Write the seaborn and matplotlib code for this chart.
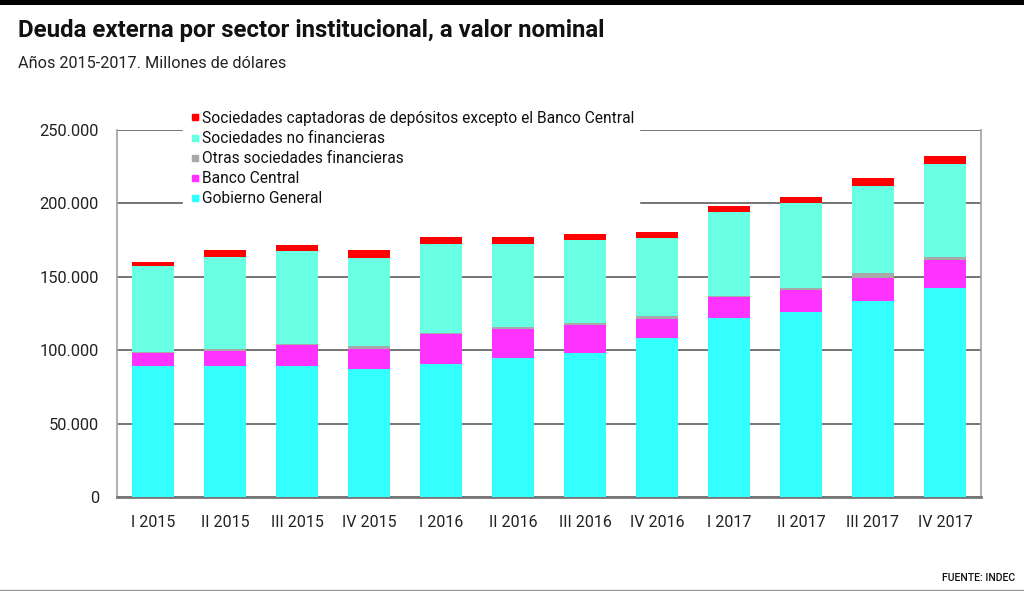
import matplotlib
matplotlib.use("Agg")
import matplotlib.pyplot as plt
import seaborn as sns
import pandas as pd
import numpy as np
from matplotlib.patches import Rectangle
from matplotlib.lines import Line2D
from matplotlib.ticker import FuncFormatter

categories = ["I 2015", "II 2015", "III 2015", "IV 2015", "I 2016", "II 2016",
              "III 2016", "IV 2016", "I 2017", "II 2017", "III 2017", "IV 2017"]
gobierno_general = [89400, 89400, 89400, 87200, 90600, 94700, 98300, 108300, 122100, 126000, 133500, 142600]
banco_central = [9000, 10200, 14100, 13600, 20200, 19800, 18900, 12700, 14300, 15200, 15500, 18900]
otras_soc_fin = [700, 950, 900, 2250, 1100, 1150, 1000, 2250, 700, 1100, 3400, 2000]
soc_no_fin = [58300, 63100, 63300, 59500, 60400, 56800, 56800, 53100, 57000, 58100, 59300, 63100]
soc_captadoras = [2700, 4300, 3900, 5400, 4500, 4500, 4100, 4100, 4100, 3900, 5400, 5700]

series_names = ["Gobierno General", "Banco Central", "Otras sociedades financieras",
                "Sociedades no financieras",
                "Sociedades captadoras de depósitos excepto el Banco Central"]
series_values = [gobierno_general, banco_central, otras_soc_fin, soc_no_fin, soc_captadoras]
colors = ["#33FFFF", "#FF33FF", "#A8A8A8", "#69FFE3", "#FF0000"]

df = pd.DataFrame({n: v for n, v in zip(series_names, series_values)})
df["cat"] = categories
cum = df[series_names].cumsum(axis=1)

sns.set_theme(style="white")
plt.rcParams['font.family'] = ['Roboto', 'DejaVu Sans']

fig = plt.figure(figsize=(10.24, 5.91), dpi=100)
ax = fig.add_axes([117/1024, 1-497/591, (981-117)/1024, (497-130)/591])

# draw stacked bars from top layer to bottom
for name, col in reversed(list(zip(series_names, colors))):
    sns.barplot(x=df["cat"], y=cum[name], color=col, saturation=1, width=0.58,
                ax=ax, zorder=3, edgecolor="none", linewidth=0)

ax.set_ylim(0, 250000)
ax.set_xlim(-0.5, len(categories)-0.5)
ax.set_yticks([0, 50000, 100000, 150000, 200000, 250000])
ax.yaxis.set_major_formatter(FuncFormatter(lambda v, p: "0" if v == 0 else f"{int(v):,}".replace(",", ".")))
ax.yaxis.grid(True, color="#6a6a6a", linewidth=1.3, zorder=0)
ax.set_axisbelow(True)
ax.set_xlabel("")
ax.set_ylabel("")
ax.tick_params(axis="y", labelsize=11.8, colors="#222222", pad=13, length=0)
ax.tick_params(axis="x", labelsize=11.5, colors="#222222", pad=13, length=0)
ax.spines["top"].set_visible(False)
ax.spines["left"].set_color("#9aa5a8")
ax.spines["right"].set_color("#9aa5a8")
ax.spines["bottom"].set_color("#777777")
ax.spines["bottom"].set_linewidth(2)
ax.spines["left"].set_linewidth(1.2)
ax.spines["right"].set_linewidth(1.2)

# legend
handles = [Line2D([0], [0], marker="s", linestyle="none", markersize=5,
                  markerfacecolor=c, markeredgecolor=c, label=n)
           for n, c in reversed(list(zip(series_names, colors)))]
leg = fig.legend(handles=handles, loc="upper left", bbox_to_anchor=(183/1024, 1-107/591),
                 frameon=True, fontsize=11.2, handletextpad=0.0, labelspacing=0.33,
                 borderpad=0.25, handlelength=1.0, borderaxespad=0)
leg.get_frame().set_facecolor("white")
leg.get_frame().set_edgecolor("white")
leg.get_frame().set_alpha(1)
leg.get_frame().set_boxstyle("square", pad=0)
leg.set_zorder(10)
for t in leg.get_texts():
    t.set_color("#111111")

# titles
fig.text(18/1024, 1-31/591, "Deuda externa por sector institucional, a valor nominal",
         fontsize=17.3, fontweight="bold", color="#111111", va="center", ha="left")
fig.text(18/1024, 1-64/591, "Años 2015-2017. Millones de dólares",
         fontsize=11.7, color="#222222", va="center", ha="left")
fig.text(1015/1024, 1-578/591, "FUENTE: INDEC", fontsize=7.6, color="#111111",
         fontweight="medium", va="center", ha="right")

# decorative bars
fig.add_artist(Rectangle((0, 1-5/591), 1, 5/591, transform=fig.transFigure,
                         facecolor="black", edgecolor="none"))
fig.add_artist(Line2D([0, 1], [1-590/591, 1-590/591], transform=fig.transFigure,
                      color="#999999", linewidth=1))

fig.savefig("out.png", dpi=100)
